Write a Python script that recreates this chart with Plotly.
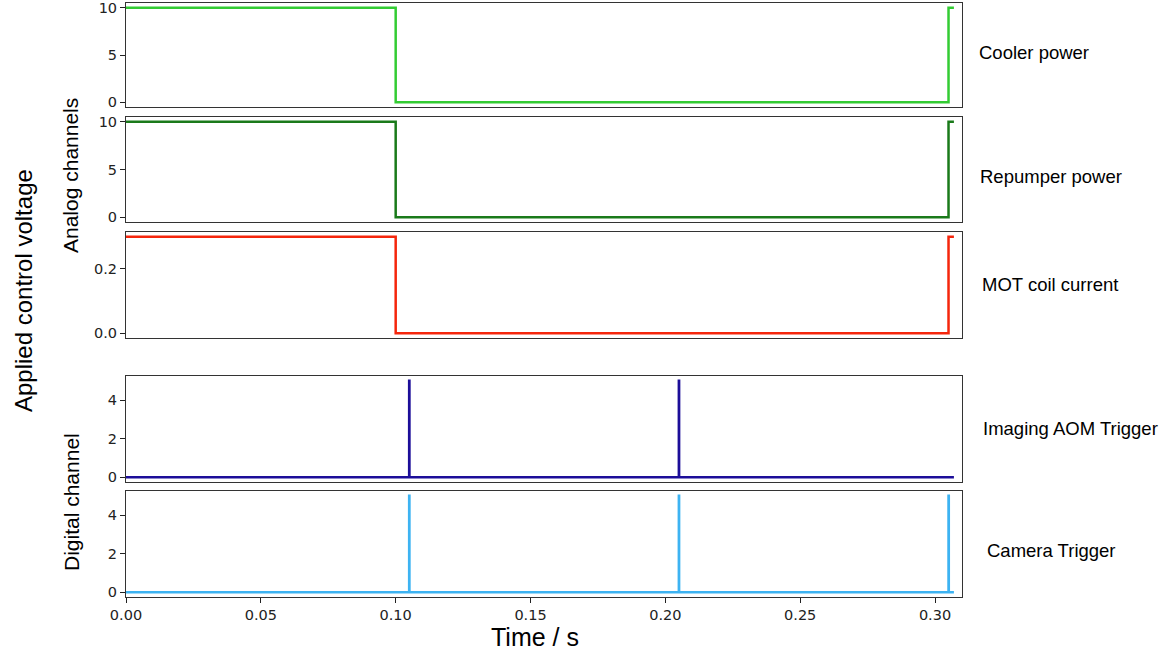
import plotly.graph_objects as go

# ---- data ----
t_analog = [0.0, 0.100, 0.305, 0.307]
cooler_power = [10, 0, 10, 10]
repumper_power = [10, 0, 10, 10]
mot_coil_current = [0.3, 0.0, 0.3, 0.3]

t_imaging = [0.0, 0.105, 0.1051, 0.205, 0.2051, 0.307]
imaging_aom = [0, 5, 0, 5, 0, 0]
t_camera = [0.0, 0.105, 0.1051, 0.205, 0.2051, 0.305, 0.3051, 0.307]
camera_trigger = [0, 5, 0, 5, 0, 5, 0, 0]

channel_names = ["Cooler power", "Repumper power", "MOT coil current",
                 "Imaging AOM Trigger", "Camera Trigger"]
x_ticks = [0.00, 0.05, 0.10, 0.15, 0.20, 0.25, 0.30]

W, H = 1175, 657
colors = ["#33cc33", "#1a7a1a", "#f5260c", "#1c0e99", "#3db3f2"]
series = [(t_analog, cooler_power), (t_analog, repumper_power), (t_analog, mot_coil_current),
          (t_imaging, imaging_aom), (t_camera, camera_trigger)]
# panel pixel extents (top, bottom)
panels = [(3, 107), (117, 222), (232, 338), (376, 482), (491, 597)]
yranges = [[-0.5, 10.5], [-0.5, 10.5], [-0.015, 0.315], [-0.25, 5.25], [-0.25, 5.25]]
ydticks = [5, 5, 0.2, 2, 2]
yfmt = ["d", "d", ".1f", "d", "d"]
label_pos = [(977, 52), (978, 176), (980, 284), (981, 428), (985, 550)]

x0, x1 = 126 / W, 962 / W
tickfont = dict(family="DejaVu Sans", size=14.5, color="#222")

fig = go.Figure()
layout = dict(
    width=W, height=H, margin=dict(l=0, r=0, t=0, b=0, autoexpand=False),
    plot_bgcolor="white", paper_bgcolor="white", showlegend=False,
    font=dict(family="DejaVu Sans", size=13, color="#222"),
)
annotations = []
for i, ((tt, vv), col, (top, bot)) in enumerate(zip(series, colors, panels)):
    n = i + 1
    xa = "x" if n == 1 else f"x{n}"
    ya = "y" if n == 1 else f"y{n}"
    fig.add_trace(go.Scatter(x=tt, y=vv, mode="lines", line=dict(color=col, width=2.5, shape="hv"),
                             xaxis=xa, yaxis=ya, hoverinfo="skip"))
    xkey = "xaxis" if n == 1 else f"xaxis{n}"
    ykey = "yaxis" if n == 1 else f"yaxis{n}"
    last = (n == 5)
    layout[xkey] = dict(
        domain=[x0, x1], anchor=ya, range=[0, 0.31], showgrid=False, zeroline=False,
        showline=True, linecolor="#333", linewidth=1, mirror=True, automargin=False,
        tickmode="array", tickvals=x_ticks, ticktext=[f"{v:.2f}" for v in x_ticks],
        showticklabels=last, ticks="outside" if last else "", ticklen=5, tickcolor="#222",
        tickfont=tickfont, ticklabeloverflow="allow",
    )
    if n > 1:
        layout[xkey]["matches"] = "x"
    layout[ykey] = dict(
        domain=[1 - bot / H, 1 - top / H], anchor=xa, range=yranges[i], showgrid=False,
        zeroline=False, showline=True, linecolor="#333", linewidth=1, mirror=True,
        automargin=False, dtick=ydticks[i], tick0=0, tickformat=yfmt[i], ticks="outside",
        ticklen=5, tickcolor="#222", tickfont=tickfont, ticklabeloverflow="allow",
    )
    lx, ly = label_pos[i]
    annotations.append(dict(text=channel_names[i], x=lx / W, y=1 - ly / H, xref="paper", yref="paper",
                            xanchor="left", yanchor="middle", showarrow=False,
                            font=dict(family="Liberation Sans", size=18.5, color="black")))

annotations += [
    dict(text="Applied control voltage", x=24 / W, y=1 - 291 / H, xref="paper", yref="paper",
         textangle=-90, showarrow=False, xanchor="center", yanchor="middle",
         font=dict(family="Liberation Sans", size=24, color="black")),
    dict(text="Analog channels", x=70 / W, y=1 - 176 / H, xref="paper", yref="paper",
         textangle=-90, showarrow=False, xanchor="center", yanchor="middle",
         font=dict(family="Liberation Sans", size=21, color="black")),
    dict(text="Digital channel", x=71 / W, y=1 - 502 / H, xref="paper", yref="paper",
         textangle=-90, showarrow=False, xanchor="center", yanchor="middle",
         font=dict(family="Liberation Sans", size=21, color="black")),
    dict(text="Time / s", x=535 / W, y=1 - 637 / H, xref="paper", yref="paper",
         showarrow=False, xanchor="center", yanchor="middle",
         font=dict(family="Liberation Sans", size=25, color="black")),
]
layout["annotations"] = annotations
fig.update_layout(**layout)
fig.write_html("out.html")
